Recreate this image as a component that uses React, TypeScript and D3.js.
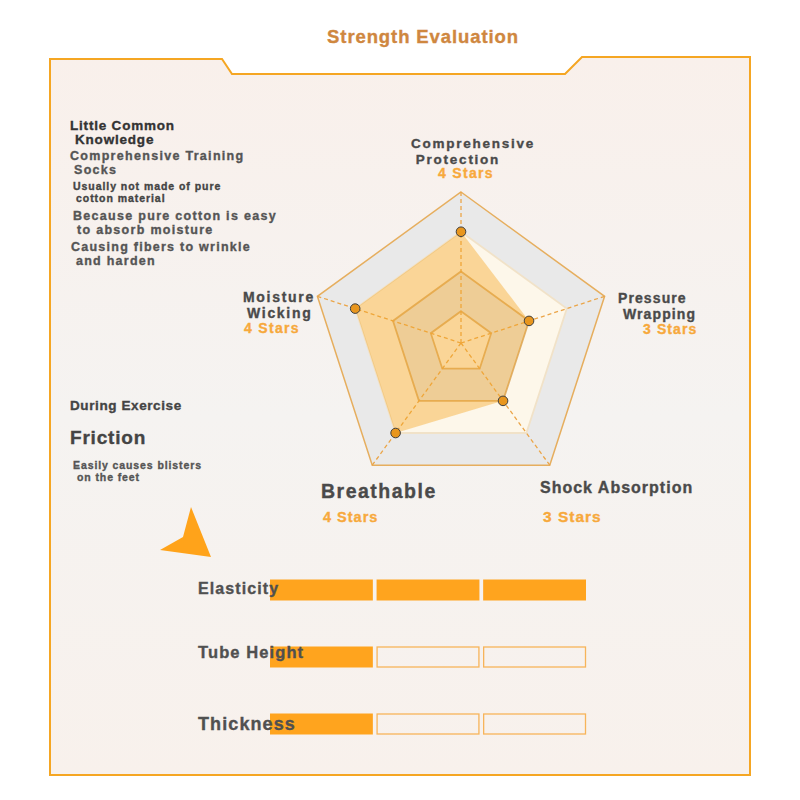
import React from "react";
import * as d3 from "d3";

const radarCategories = ["Comprehensive Protection", "Pressure Wrapping", "Shock Absorption", "Breathable", "Moisture Wicking"];
const radarValues = [4, 3, 3, 4, 4];
const radarLevels = [2, 3, 4, 5];
const barCategories = ["Elasticity", "Tube Height", "Thickness"];
const barValues = [3, 1, 1];
const barMax = 3;

const FONT = "'Liberation Sans', Arial, sans-serif";
const DARK = "#4a4a4a";
const ORANGE = "#f5a623";
const STAR = "#f7a93c";

export default function App() {
  const cx = 461, cy = 343, R = 151;
  const r = d3.scaleLinear().domain([1.2, 5]).range([0, R]);
  const ang = (i: number) => -Math.PI / 2 + (i * 2 * Math.PI) / radarCategories.length;
  const pt = (i: number, v: number): [number, number] => [cx + r(v) * Math.cos(ang(i)), cy + r(v) * Math.sin(ang(i))];
  const line = d3.line<[number, number]>().curve(d3.curveLinearClosed);
  const ring = (v: number) => line(radarCategories.map((_, i) => pt(i, v))) as string;
  const dataPath = line(radarValues.map((v, i) => pt(i, v))) as string;

  const bx = d3.scaleBand<number>().domain(d3.range(barMax)).range([270, 586]).paddingInner(0.035);
  const by = d3.scalePoint<string>().domain(barCategories).range([590, 724]);
  const barH = 21;

  const framePath = "M50,59 L222,59 L232,74 L565,74 L582,57 L750,57 L750,775 L50,775 Z";

  const t = (x: number, y: number, s: string, size: number, fill = DARK, ls = 0.9, anchor = "start") => (
    <text x={x} y={y} fontSize={size} fill={fill} stroke={fill} strokeWidth={0.35} fontWeight="bold"
      letterSpacing={ls} textAnchor={anchor} fontFamily={FONT}>{s}</text>
  );

  return (
    <svg width={800} height={800} style={{ position: "absolute", left: 0, top: 0, background: "#fff" }}>
      <defs>
        <linearGradient id="bg" x1="0" y1="0" x2="0" y2="1">
          <stop offset="0" stopColor="#f9f0eb" />
          <stop offset="0.5" stopColor="#f5f3f1" />
          <stop offset="1" stopColor="#f8f1ec" />
        </linearGradient>
      </defs>
      <path d={framePath} fill="url(#bg)" stroke={ORANGE} strokeWidth={2} />
      {t(423, 43, "Strength Evaluation", 18.5, "#cf873f", 0.9, "middle")}

      {/* left notes */}
      {t(70, 130, "Little Common", 13.5, "#333", 0.8)}
      {t(75, 144, "Knowledge", 13.5, "#333", 0.8)}
      {t(70, 160, "Comprehensive Training", 12.5, "#555", 1.3)}
      {t(74, 174, "Socks", 12.5, "#555", 1.3)}
      {t(73, 190, "Usually not made of pure", 10.5, "#444", 0.95)}
      {t(76, 202, "cotton material", 10.5, "#444", 0.95)}
      {t(73, 220, "Because pure cotton is easy", 12.5, "#555", 1.3)}
      {t(77, 234, "to absorb moisture", 12.5, "#555", 1.3)}
      {t(71, 251, "Causing fibers to wrinkle", 12.5, "#555", 1.25)}
      {t(76, 265, "and harden", 12.5, "#555", 1.25)}

      {t(70, 410, "During Exercise", 13.5, "#444", 0.6)}
      {t(70, 444, "Friction", 19, "#444", 0.8)}
      {t(73, 469, "Easily causes blisters", 10.5, "#555", 0.9)}
      {t(77, 481, "on the feet", 10.5, "#555", 0.9)}
      <path d="M191,507 L211,557 L160,550 L183,537 Z" fill="#ffa31a" />

      {/* radar split areas */}
      {[...radarLevels].reverse().map((v, k) => (
        <path key={"a" + v} d={ring(v)} fill={k % 2 === 0 ? "#e9e9e9" : "#fdf7ea"} stroke="none" />
      ))}
      {radarLevels.map((v) => (
        <path key={"l" + v} d={ring(v)} fill="none"
          stroke={v === 5 ? "#e6ae5e" : v === 4 ? "#f1e2c8" : "#ddb070"} strokeWidth={v === 5 ? 1.5 : 1.8} />
      ))}
      {radarCategories.map((_, i) => {
        const [x, y] = pt(i, 5);
        return <line key={"ax" + i} x1={cx} y1={cy} x2={x} y2={y} stroke="#eba548" strokeWidth={1.3} strokeDasharray="4,3" />;
      })}
      <path d={dataPath} fill={ORANGE} fillOpacity={0.42} stroke="none" />
      {radarValues.map((v, i) => {
        const [x, y] = pt(i, v);
        return <circle key={"p" + i} cx={x} cy={y} r={4.8} fill="#e8961e" stroke="#3f3f3f" strokeWidth={1} />;
      })}

      {/* radar labels */}
      {t(473, 148, "Comprehensive", 13.5, DARK, 1.75, "middle")}
      {t(458, 163.5, "Protection", 13.5, DARK, 1.75, "middle")}
      {t(466, 178, `${radarValues[0]} Stars`, 14, STAR, 1.3, "middle")}

      {t(618, 303, "Pressure", 14, DARK, 1.1)}
      {t(623, 319, "Wrapping", 14, DARK, 1.1)}
      {t(643, 334, `${radarValues[1]} Stars`, 14, STAR, 1.1)}

      {t(540, 493, "Shock Absorption", 16, DARK, 1)}
      {t(543, 522, `${radarValues[2]} Stars`, 15.5, STAR, 1)}

      {t(321, 498, "Breathable", 19.5, DARK, 1.5)}
      {t(323, 522, `${radarValues[3]} Stars`, 14.5, STAR, 1)}

      {t(243, 302, "Moisture", 14, DARK, 1.7)}
      {t(247, 318, "Wicking", 14, DARK, 1.7)}
      {t(244, 333, `${radarValues[4]} Stars`, 14, STAR, 1.3)}

      {/* bars */}
      {barCategories.map((c, ci) => (
        <g key={c}>
          {d3.range(barMax).map((j) => {
            const filled = j < barValues[ci];
            return (
              <rect key={j} x={bx(j)! + (filled ? 0 : 0.5)} y={by(c)! - barH / 2 + (filled ? 0 : 0.5)}
                width={bx.bandwidth() - (filled ? 0 : 1)} height={barH - (filled ? 0 : 1)}
                fill={filled ? "#ffa41e" : "none"} stroke={filled ? "none" : "#f7b45a"} strokeWidth={1.3} />
            );
          })}
        </g>
      ))}
      {t(198, 594, barCategories[0], 16, "#505050", 1.1)}
      {t(198, 658, barCategories[1], 16.5, "#505050", 1.1)}
      {t(198, 730, barCategories[2], 18, "#505050", 1.1)}
    </svg>
  );
}
